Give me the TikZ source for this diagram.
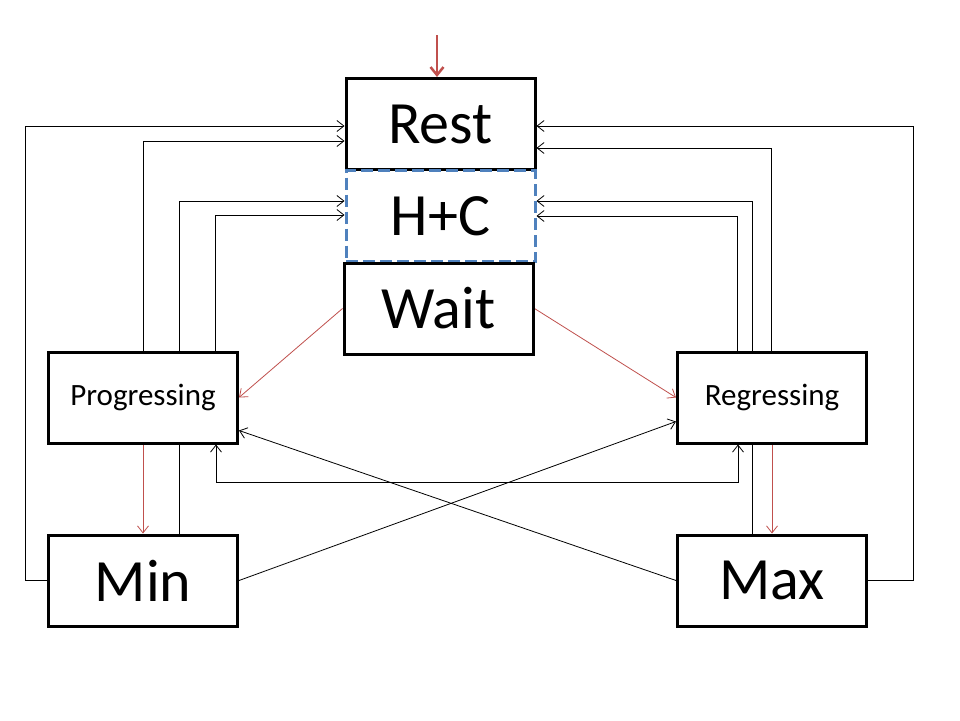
\documentclass[tikz,border=0pt]{standalone}
\usepackage{fontspec}
\setmainfont{Carlito}
\usepackage{xcolor}
\usetikzlibrary{positioning,calc,arrows.meta,backgrounds}

\definecolor{linkred}{RGB}{192,80,77}
\definecolor{hcblue}{RGB}{79,129,189}

\tikzset{
    state/.style={draw, line width=3pt, fill=white, minimum width=189pt, minimum height=91pt, inner sep=0pt},
    bigstate/.style={state, font=\fontsize{60}{66}\selectfont},
    smallstate/.style={state, font=\fontsize{31}{35}\selectfont},
    link/.style={line width=0.8pt, -{Straight Barb[length=7pt,width=11pt]}},
    redlink/.style={link, draw=linkred},
}

\begin{document}
\begin{tikzpicture}[x=1pt, y=1pt]
    \useasboundingbox (0,0) rectangle (960,-720);

    % states
    \node[bigstate] (rest) at (440.5,-124) {Rest};
    \node[bigstate, draw=hcblue, dash pattern=on 12pt off 5pt] (hc) at (440.5,-216) {H+C};
    \node[bigstate] (wait) at (438.5,-308.5) {Wait};
    \node[smallstate] (prog) at (143,-397.5) {Progressing};
    \node[smallstate] (reg) at (772,-397.5) {Regressing};
    \node[bigstate] (min) at (143,-580.5) {Min};
    \node[bigstate] (max) at (772,-580.5) {Max};

    \coordinate (start) at (437,-35);

    \begin{scope}[on background layer]
        \fill[white] (0,0) rectangle (960,-720);

        % entry
        \draw[draw=linkred, line width=2.5pt, -{Straight Barb[length=8pt,width=13pt]}] (start) -- (start |- rest.north);

        % left side back to rest / h+c
        \draw[link] (min.west) -- ++(-22,0) |- ([yshift=-2pt]rest.west);
        \draw[link] (prog.north) |- ([yshift=-17pt]rest.west);
        \draw[link] ([xshift=36pt]min.north) |- ([yshift=15pt]hc.west);
        \draw[link] ([xshift=72pt]prog.north) |- ([yshift=1pt]hc.west);

        % right side back to rest / h+c
        \draw[link] (max.east) -- ++(45,0) |- ([yshift=-2pt]rest.east);
        \draw[link] ([xshift=-1pt]reg.north) |- ([yshift=-24pt]rest.east);
        \draw[link] ([xshift=-20pt]max.north) |- ([yshift=15pt]hc.east);
        \draw[link] ([xshift=-35pt]reg.north) |- ([yshift=0pt]hc.east);

        % wait
        \draw[redlink] (wait.west) -- (prog.east);
        \draw[redlink] (wait.east) -- (reg.west);

        % down to min / max
        \draw[redlink] (prog.south) -- (min.north);
        \draw[redlink] (reg.south) -- (max.north);

        % crossing
        \draw[link] (min.east) -- ([yshift=-24pt]reg.west);
        \draw[link] (max.west) -- ([yshift=-33pt]prog.east);

        % between progressing and regressing
        \draw[link, {Straight Barb[length=7pt,width=11pt]}-{Straight Barb[length=7pt,width=11pt]}]
            ([xshift=73pt]prog.south) -- ++(0,-38) -| ([xshift=-34pt]reg.south);
    \end{scope}
\end{tikzpicture}
\end{document}
